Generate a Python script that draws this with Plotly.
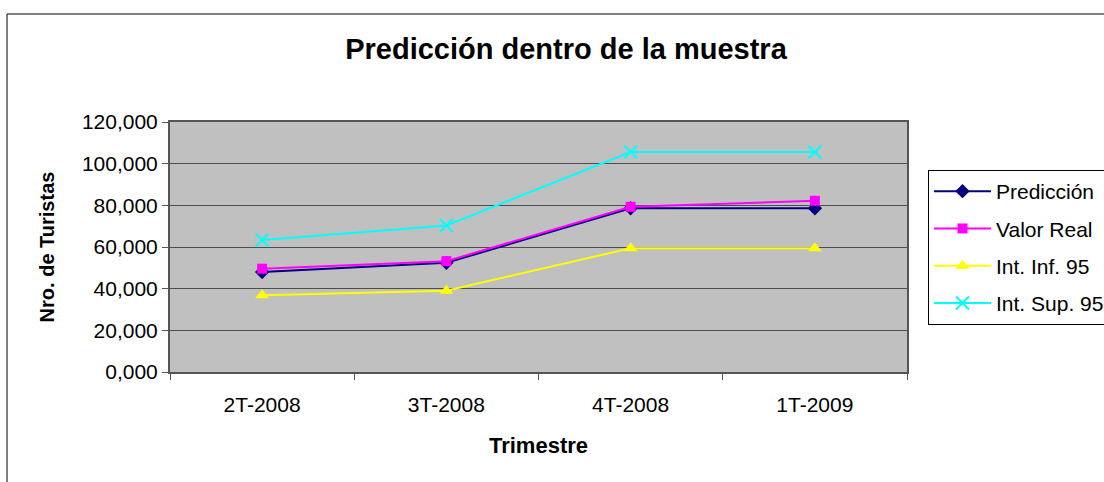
import plotly.graph_objects as go

trimestres = ["2T-2008", "3T-2008", "4T-2008", "1T-2009"]
prediccion = [48000, 52400, 78600, 78600]
valor_real = [49600, 53200, 79300, 82200]
int_inf = [36800, 39000, 59400, 59400]
int_sup = [63400, 70300, 105600, 105600]

y_ticks = [0, 20000, 40000, 60000, 80000, 100000, 120000]
y_labels = ["0,000", "20,000", "40,000", "60,000", "80,000", "100,000", "120,000"]

FONT = "Liberation Sans, Arial, sans-serif"

fig = go.Figure()
fig.add_trace(go.Scatter(x=trimestres, y=prediccion, name="Predicción", mode="markers+lines",
                         line=dict(color="#000080", width=2),
                         marker=dict(symbol="diamond", size=11, color="#000080"),
                         legendgroup="a"))
fig.add_trace(go.Scatter(x=trimestres, y=valor_real, name="Valor Real", mode="markers+lines",
                         line=dict(color="#FF00FF", width=2),
                         marker=dict(symbol="square", size=10, color="#FF00FF"),
                         legendgroup="b"))
fig.add_trace(go.Scatter(x=trimestres, y=int_inf, name="Int. Inf. 95", mode="markers+lines",
                         line=dict(color="#FFFF00", width=2),
                         marker=dict(symbol="triangle-up", size=12, color="#FFFF00"),
                         legendgroup="c"))
fig.add_trace(go.Scatter(x=trimestres, y=int_sup, name="Int. Sup. 95", mode="markers+lines",
                         line=dict(color="#00FFFF", width=2),
                         marker=dict(symbol="x-thin-open", size=13, line=dict(color="#00FFFF", width=2)),
                         legendgroup="d"))

# marco exterior del gráfico
fig.add_shape(type="rect", xref="paper", yref="paper",
              x0=(7 - 170) / 737, x1=(1110 - 170) / 737,
              y0=(372 - 490) / 250, y1=(372 - 14) / 250,
              line=dict(color="#000000", width=1), layer="below")

fig.update_layout(
    width=1104, height=482,
    margin=dict(l=170, r=197, t=122, b=110, autoexpand=False),
    paper_bgcolor="white",
    plot_bgcolor="#C0C0C0",
    font=dict(family=FONT, color="black", size=21),
    title=dict(text="<b>Predicción dentro de la muestra</b>", font=dict(size=29),
               x=566 / 1104, xanchor="center", y=1 - 49 / 482, yanchor="middle"),
    legend=dict(x=(928 - 170) / 737, y=(372 - 170) / 250, xanchor="left", yanchor="top",
                bordercolor="#000000", borderwidth=1, bgcolor="white",
                font=dict(size=21), itemwidth=57, tracegroupgap=7, traceorder="grouped"),
    showlegend=True,
)

fig.update_xaxes(
    type="category", range=[-0.5, 3.5], tickson="boundaries", ticks="outside", ticklen=6,
    tickcolor="#555555",
    showline=True, linecolor="#555555", linewidth=2, mirror=True, showgrid=False,
    title=dict(text="<b>Trimestre</b>", font=dict(size=22), standoff=22),
    tickfont=dict(size=21), ticklabelstandoff=13,
)
fig.update_yaxes(
    range=[0, 120000], tickvals=y_ticks, ticktext=y_labels,
    ticks="outside", ticklen=6, tickcolor="#555555",
    showline=True, linecolor="#555555", linewidth=2, mirror=True,
    showgrid=True, gridcolor="#4d4d4d", gridwidth=1, zeroline=False,
    title=dict(text="<b>Nro. de Turistas</b>", font=dict(size=20), standoff=22),
    tickfont=dict(size=21),
)

fig.write_html("out.html", config={"displayModeBar": False},
               post_script="document.body.style.margin='0';")
